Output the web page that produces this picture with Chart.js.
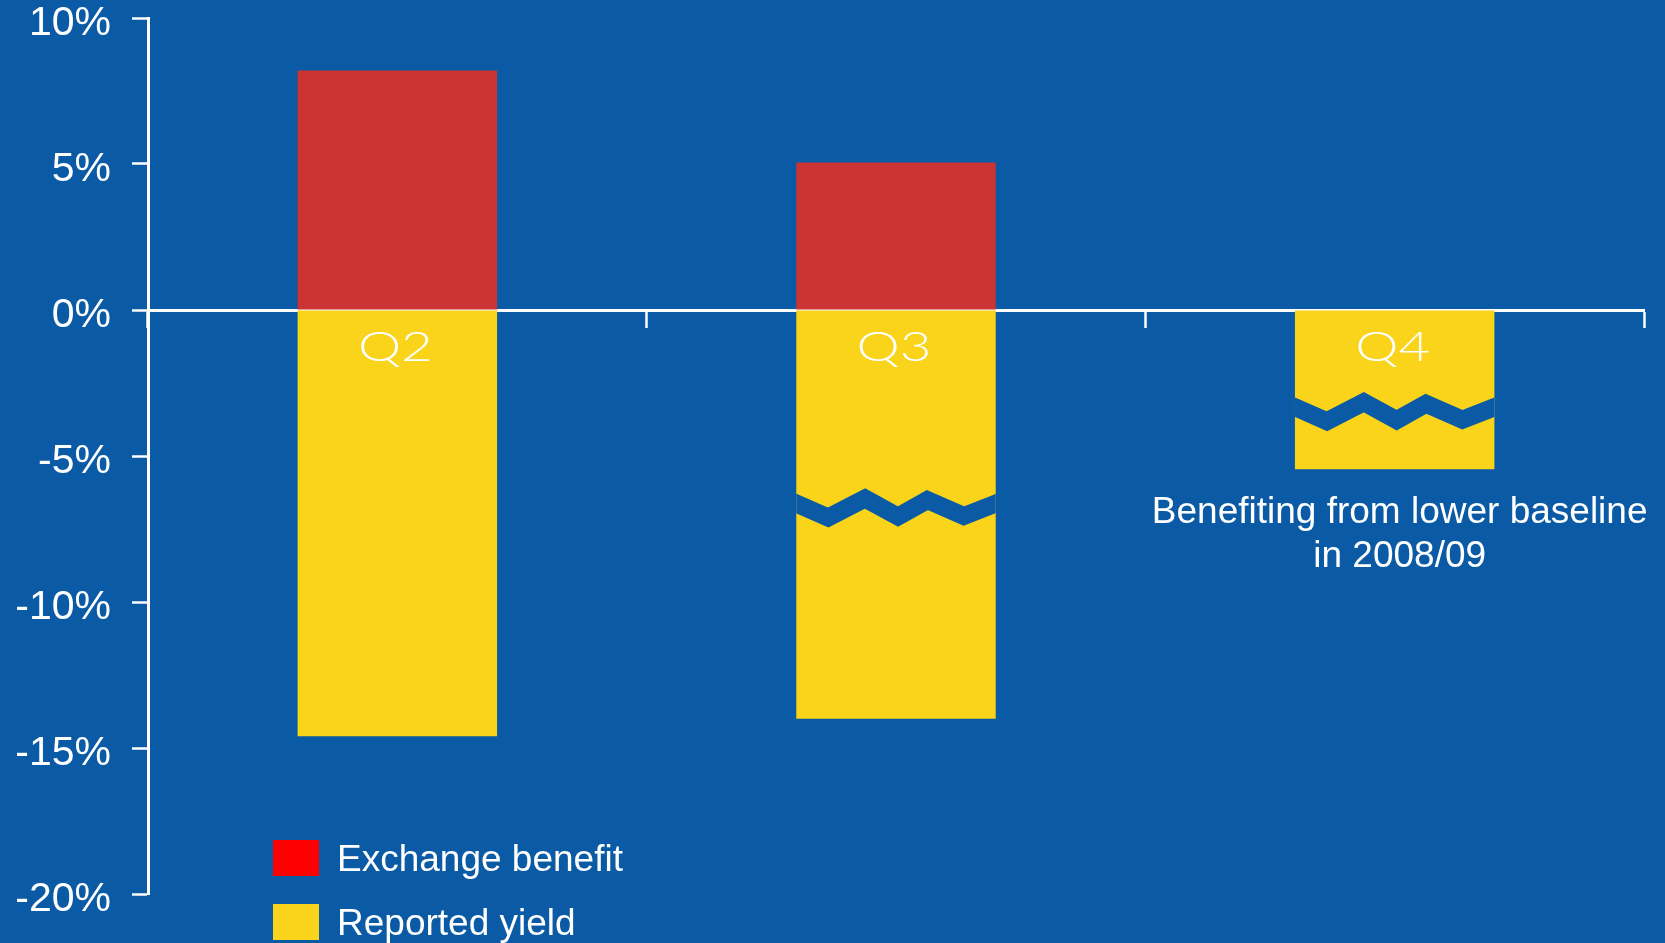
<!DOCTYPE html>
<html>
<head>
<meta charset="utf-8">
<script src="https://cdn.jsdelivr.net/npm/chart.js@4/dist/chart.umd.min.js"></script>
<style>
	html, body { margin: 0; padding: 0; background: #0A5AA5; overflow: hidden; }
	#wrap { position: relative; width: 1665px; height: 943px; }
	#legend { position: absolute; left: 273px; top: 826px; }
	.row { display: flex; align-items: center; height: 64px; }
	.swatch { width: 46px; height: 36px; margin-right: 18px; }
	.row span { color: #fff; font: 37px "Liberation Sans", Arial, sans-serif; line-height: 1; }
</style>
</head>
<body>
<div id="wrap">
	<canvas id="chart" width="1665" height="943"></canvas>
	<div id="legend"></div>
</div>
<script>
// --- Data ---
const categories = ["Q2", "Q3", "Q4"];
const seriesNames = ["Exchange benefit", "Reported yield"];
const exchangeBenefit = [8.2, 5.05, 0];
const reportedYield = [-14.6, -14.0, -5.45];
// where each yellow bar gets its "broken axis" zigzag (null = none)
const breakAt = [null, -6.8, -3.5];
const noteLines = ["Benefiting from lower baseline", "in 2008/09"];

const BG = "#0A5AA5";
const barColors = ["#CC3333", "#F9D41A"];
const legendColors = ["#FF0000", "#F9D41A"];
const FONT = '"Liberation Sans", Arial, sans-serif';

// zigzag shape across a bar: x as fraction of bar width, y offset in px
const ZIG_X = [0, 0.16, 0.345, 0.51, 0.657, 0.84, 1];
const ZIG_Y = [-5, 9, -10, 8, -8.5, 7.5, -5];

const annotatePlugin = {
	id: "annotate",
	afterDatasetsDraw(chart) {
		const { ctx } = chart;
		const yScale = chart.scales.y;
		const meta = chart.getDatasetMeta(1);
		meta.data.forEach((bar, i) => {
			if (breakAt[i] == null) return;
			const { x, width, base, y } = bar.getProps(["x", "width", "base", "y"], true);
			const left = x - width / 2;
			const cy = yScale.getPixelForValue(breakAt[i]);
			const pts = ZIG_X.map((f, k) => [left + f * width, cy + ZIG_Y[k]]);
			// stretch the ends past the bar edges so the clip cuts them square
			const ext = (a, b) => [a[0] + (a[0] - b[0]), a[1] + (a[1] - b[1])];
			pts.unshift(ext(pts[0], pts[1]));
			pts.push(ext(pts[pts.length - 1], pts[pts.length - 2]));
			ctx.save();
			ctx.beginPath();
			ctx.rect(left, Math.min(base, y), width, Math.abs(y - base));
			ctx.clip();
			ctx.beginPath();
			pts.forEach((p, k) => (k ? ctx.lineTo(p[0], p[1]) : ctx.moveTo(p[0], p[1])));
			ctx.strokeStyle = BG;
			ctx.lineWidth = 18;
			ctx.lineJoin = "miter";
			ctx.stroke();
			ctx.restore();
		});
	},
	afterDraw(chart) {
		const { ctx } = chart;
		const xScale = chart.scales.x;
		const zero = chart.scales.y.getPixelForValue(0);
		ctx.save();
		ctx.fillStyle = "#fff";
		// quarter names sit inside the bars, just under the zero line (wide, thin lettering)
		ctx.font = '300 42px Lato, "Open Sans", sans-serif';
		ctx.textAlign = "center";
		ctx.textBaseline = "middle";
		categories.forEach((c, i) => {
			ctx.save();
			ctx.translate(xScale.getPixelForValue(i) - 2, zero + 37);
			ctx.scale(1.3, 1);
			ctx.fillText(c, 0, 0);
			ctx.restore();
		});
		// note under the Q4 bar
		const bar = chart.getDatasetMeta(1).data[2];
		ctx.font = "37px " + FONT;
		ctx.textBaseline = "alphabetic";
		noteLines.forEach((t, k) => ctx.fillText(t, bar.x + 5, bar.y + 54 + k * 44));
		ctx.restore();
	},
};

const chart = new Chart(document.getElementById("chart"), {
	type: "bar",
	data: {
		labels: categories,
		datasets: [
			{ label: seriesNames[0], data: exchangeBenefit, backgroundColor: barColors[0] },
			{ label: seriesNames[1], data: reportedYield, backgroundColor: barColors[1] },
		],
	},
	options: {
		responsive: false,
		animation: false,
		devicePixelRatio: 1,
		barPercentage: 0.4,
		categoryPercentage: 1,
		layout: { padding: { left: 0, top: 18, right: 21, bottom: 49 } },
		scales: {
			x: {
				stacked: true,
				position: { y: 0 },
				z: 1,
				grid: {
					drawOnChartArea: false,
					color: "#fff",
					tickLength: 16,
					tickWidth: 2.5,
				},
				border: { color: "#fff", width: 3 },
				ticks: { display: false },
			},
			y: {
				stacked: true,
				min: -20,
				max: 10,
				grid: {
					drawOnChartArea: false,
					color: "#fff",
					tickLength: 16,
					tickWidth: 2.5,
				},
				border: { color: "#fff", width: 3 },
				ticks: {
					stepSize: 5,
					color: "#fff",
					padding: 21,
					labelOffset: 6,
					font: { family: FONT, size: 41 },
					callback: (v) => v + "%",
				},
				afterFit(scale) {
					scale.width = 148;
					scale.paddingTop = 0;
					scale.paddingBottom = 0;
				},
			},
		},
		plugins: {
			legend: { display: false },
			tooltip: { enabled: false },
		},
	},
	plugins: [annotatePlugin],
});

// --- Legend ---
const legend = document.getElementById("legend");
chart.data.datasets.forEach((ds, i) => {
	const row = document.createElement("div");
	row.className = "row";
	const sw = document.createElement("div");
	sw.className = "swatch";
	sw.style.background = legendColors[i];
	const txt = document.createElement("span");
	txt.textContent = ds.label;
	row.appendChild(sw);
	row.appendChild(txt);
	legend.appendChild(row);
});
</script>
</body>
</html>
